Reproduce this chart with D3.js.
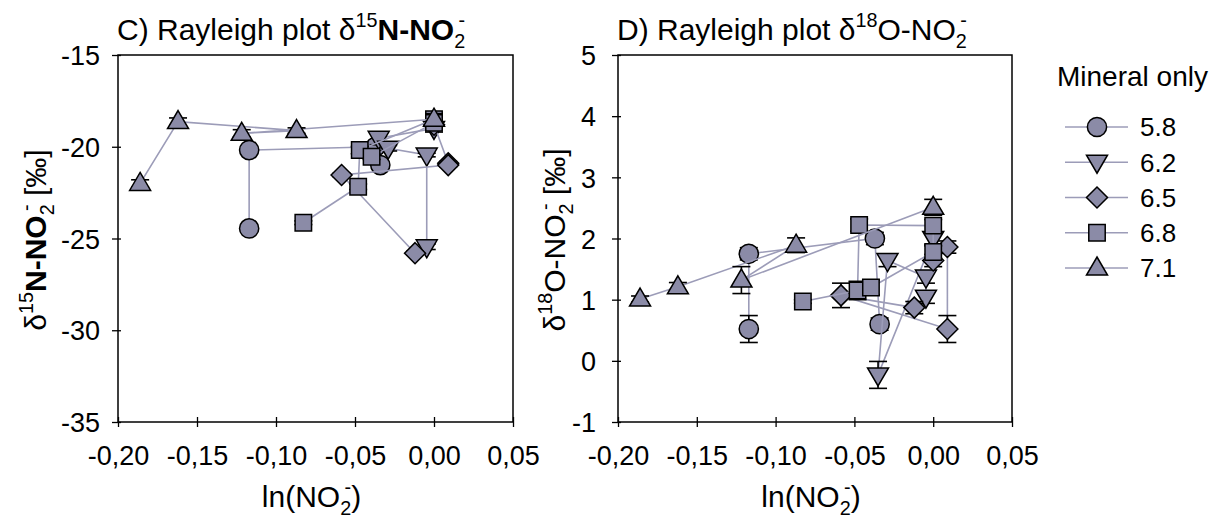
<!DOCTYPE html>
<html><head><meta charset="utf-8">
<script src="https://cdn.jsdelivr.net/npm/d3@7"></script>
<style>body{margin:0;background:#fff} text{font-family:Arial,'Liberation Sans',sans-serif;fill:#000}</style>
</head><body><svg id="c" width="1221" height="523"></svg>
<script>
// ---------- data ----------
const phLabels = ["5.8", "6.2", "6.5", "6.8", "7.1"];
const symbolNames = ["circle", "triangleDown", "diamond", "square", "triangle"];
const xTicks = [-0.20, -0.15, -0.10, -0.05, 0.00, 0.05];
const yTicksN = [-35, -30, -25, -20, -15];
const yTicksO = [-1, 0, 1, 2, 3, 4, 5];

// pH 5.8
const ln58 = [-0.117, -0.117, -0.037, -0.034];
const n58 = [-24.45, -20.18, -20.0, -21.0];
const n58err = [0.1, 0.1, 0.1, 0.15];
const o58 = [0.52, 1.75, 2.0, 0.60];
const o58err = [0.22, 0.1, 0.1, 0.1];
// pH 6.2
const ln62 = [0.0, -0.035, -0.029, -0.0046, -0.0046];
const n62 = [-19.0, -19.54, -20.08, -20.45, -25.45];
const n62err = [0.2, 0.35, 0.15, 0.1, 0.15];
const o62 = [2.0, -0.23, 1.64, 1.37, 1.04];
const o62err = [0.1, 0.22, 0.1, 0.1, 0.1];
// pH 6.5
const ln65 = [0.0, 0.009, 0.009, -0.0585, -0.012];
const n65 = [-18.8, -20.9, -21.0, -21.54, -25.8];
const n65err = [0.1, 0.1, 0.1, 0.1, 0.1];
const o65 = [1.64, 1.86, 0.52, 1.07, 0.87];
const o65err = [0.1, 0.1, 0.22, 0.2, 0.1];
// pH 6.8
const ln68 = [-0.0827, -0.048, -0.047, 0.0, 0.0, -0.0395];
const n68 = [-24.14, -22.18, -20.18, -18.5, -18.7, -20.54];
const n68err = [0.1, 0.15, 0.2, 0.1, 0.1, 0.15];
const o68 = [0.97, 1.15, 2.22, 2.21, 1.78, 1.20];
const o68err = [0.03, 0.15, 0.1, 0.1, 0.1, 0.12];
// pH 7.1
const ln71 = [-0.186, -0.162, -0.087, -0.1217, 0.0];
const n71 = [-22.0, -18.63, -19.12, -19.27, -18.5];
const n71err = [0.2, 0.2, 0.15, 0.2, 0.3];
const o71 = [1.01, 1.21, 1.89, 1.32, 2.51];
const o71err = [0.05, 0.07, 0.12, 0.22, 0.13];

const seriesLn = [ln58, ln62, ln65, ln68, ln71];
const seriesN = [n58, n62, n65, n68, n71];
const seriesNerr = [n58err, n62err, n65err, n68err, n71err];
const seriesO = [o58, o62, o65, o68, o71];
const seriesOerr = [o58err, o62err, o65err, o68err, o71err];

// ---------- style ----------
const FILL = "#8b8ba7", LINE = "#9c9cb8";
const FS_TICK = 27, FS_TITLE = 30, FS_AX = 30, FS_LEG = 28;
const svg = d3.select("#c");

function symPath(name) {
  switch (name) {
    case "circle": return d3.symbol(d3.symbolCircle, 290)();
    case "square": return d3.symbol(d3.symbolSquare, 270)();
    case "diamond": return "M0,-10.5L10.5,0L0,10.5L-10.5,0Z";
    case "triangle": return "M0,-11L10.5,7L-10.5,7Z";
    case "triangleDown": return "M0,11L10.5,-7L-10.5,-7Z";
  }
}

function rich(sel, parts, fs) {
  let shift = 0;
  parts.forEach(p => {
    const target = p.s === "sup" ? -0.42 * fs : p.s === "sub" ? 0.28 * fs : 0;
    const ts = sel.append("tspan").text(p.t)
      .attr("dy", target - shift)
      .attr("font-size", p.s ? fs * 0.66 : fs);
    if (p.dx) ts.attr("dx", p.dx * fs);
    if (p.b) ts.attr("font-weight", "bold");
    shift = target;
  });
}

function panel(opt) {
  const x = d3.scaleLinear().domain([-0.2, 0.05]).range(opt.xr);
  const y = d3.scaleLinear().domain(opt.yd).range([422, 55]);
  const g = svg.append("g");
  const fmt = v => d3.format(".2f")(v).replace(".", ",").replace("−", "-").replace("-0,00", "0,00");

  const xa = g.append("g").attr("transform", "translate(0,422)")
    .call(d3.axisBottom(x).tickValues(xTicks).tickFormat(fmt).tickSize(5).tickPadding(19));
  xa.select(".domain").remove();
  xa.selectAll(".tick line").attr("y1", -5).attr("stroke", "#000").attr("stroke-width", 1.3);
  xa.selectAll(".tick text").attr("font-size", FS_TICK).attr("font-family", "Arial,'Liberation Sans'").attr("fill", "#000");

  const ya = g.append("g").attr("transform", `translate(${opt.xr[0]},0)`)
    .call(d3.axisLeft(y).tickValues(opt.yt).tickFormat(v => String(v).replace("−", "-")).tickSize(6).tickPadding(opt.ypad));
  ya.select(".domain").remove();
  ya.selectAll(".tick line").attr("x1", 3).attr("stroke", "#000").attr("stroke-width", 1.3);
  ya.selectAll(".tick text").attr("font-size", FS_TICK).attr("font-family", "Arial,'Liberation Sans'").attr("fill", "#000")
    .attr("dy", "0.36em");

  g.append("rect").attr("x", opt.xr[0]).attr("y", 55)
    .attr("width", opt.xr[1] - opt.xr[0]).attr("height", 422 - 55)
    .attr("fill", "none").attr("stroke", "#000").attr("stroke-width", 1.5);

  // data
  const plot = g.append("g");
  seriesLn.forEach((lnArr, si) => {
    const ys = opt.ys[si], es = opt.es[si];
    const pts = lnArr.map((v, i) => [v, ys[i], es[i]]);
    const sg = plot.append("g");
    sg.append("path").datum(pts)
      .attr("d", d3.line().x(d => x(d[0])).y(d => y(d[1])))
      .attr("fill", "none").attr("stroke", LINE).attr("stroke-width", 1.6);
    const eb = sg.selectAll("g.eb").data(pts).join("g").attr("stroke", "#000").attr("stroke-width", 1.6);
    eb.append("line").attr("x1", d => x(d[0])).attr("x2", d => x(d[0]))
      .attr("y1", d => y(d[1] - d[2])).attr("y2", d => y(d[1] + d[2]));
    eb.append("line").attr("x1", d => x(d[0]) - 9).attr("x2", d => x(d[0]) + 9)
      .attr("y1", d => y(d[1] + d[2])).attr("y2", d => y(d[1] + d[2]));
    eb.append("line").attr("x1", d => x(d[0]) - 9).attr("x2", d => x(d[0]) + 9)
      .attr("y1", d => y(d[1] - d[2])).attr("y2", d => y(d[1] - d[2]));
    sg.selectAll("path.m").data(pts).join("path").attr("class", "m")
      .attr("d", symPath(symbolNames[si]))
      .attr("transform", d => `translate(${x(d[0])},${y(d[1])})`)
      .attr("fill", FILL).attr("stroke", "#000").attr("stroke-width", 1.5);
  });

  // title
  const t = svg.append("text").attr("x", opt.xr[0] - 1).attr("y", 40).attr("font-size", FS_TITLE);
  rich(t, opt.title, FS_TITLE);
  // x label
  const xl = svg.append("text").attr("x", (opt.xr[0] + opt.xr[1]) / 2 - 4).attr("y", 507)
    .attr("text-anchor", "middle").attr("font-size", FS_AX);
  rich(xl, [{t: "ln(NO"}, {t: "2", s: "sub"}, {t: "-", s: "sup", dx: -0.22}, {t: ")"}], FS_AX);
  // y label
  const yl = svg.append("text").attr("transform", `translate(${opt.ylx},240) rotate(-90)`)
    .attr("text-anchor", "middle").attr("font-size", FS_AX);
  rich(yl, opt.ylab, FS_AX);
}

panel({
  xr: [118, 513], yd: [-35, -15], yt: yTicksN, ys: seriesN, es: seriesNerr, ylx: 46, ypad: 12,
  title: [{t: "C) Rayleigh plot δ"}, {t: "15", s: "sup"}, {t: "N-NO", b: true}, {t: "2", s: "sub"}, {t: "-", s: "sup", dx: -0.22}],
  ylab: [{t: "δ"}, {t: "15", s: "sup"}, {t: "N-NO", b: true}, {t: "2", s: "sub"}, {t: "-", s: "sup", dx: -0.22}, {t: " [‰]"}]
});
panel({
  xr: [618, 1012], yd: [-1, 5], yt: yTicksO, ys: seriesO, es: seriesOerr, ylx: 565, ypad: 16,
  title: [{t: "D) Rayleigh plot δ"}, {t: "18", s: "sup"}, {t: "O-NO"}, {t: "2", s: "sub"}, {t: "-", s: "sup", dx: -0.22}],
  ylab: [{t: "δ"}, {t: "18", s: "sup"}, {t: "O-NO"}, {t: "2", s: "sub"}, {t: "-", s: "sup", dx: -0.22}, {t: " [‰]"}]
});

// legend
const lg = svg.append("g");
lg.append("text").attr("x", 1057).attr("y", 86).attr("font-size", FS_LEG).text("Mineral only");
const legY = d3.scaleLinear().domain([0, 4]).range([127, 268]);
phLabels.forEach((lab, i) => {
  const yy = legY(i);
  lg.append("line").attr("x1", 1065).attr("x2", 1128).attr("y1", yy).attr("y2", yy)
    .attr("stroke", LINE).attr("stroke-width", 1.6);
  lg.append("path").attr("d", symPath(symbolNames[i])).attr("transform", `translate(1097,${yy})`)
    .attr("fill", FILL).attr("stroke", "#000").attr("stroke-width", 1.5);
  lg.append("text").attr("x", 1140).attr("y", yy).attr("dy", "0.36em").attr("font-size", FS_LEG - 2).text(lab);
});
</script></body></html>
